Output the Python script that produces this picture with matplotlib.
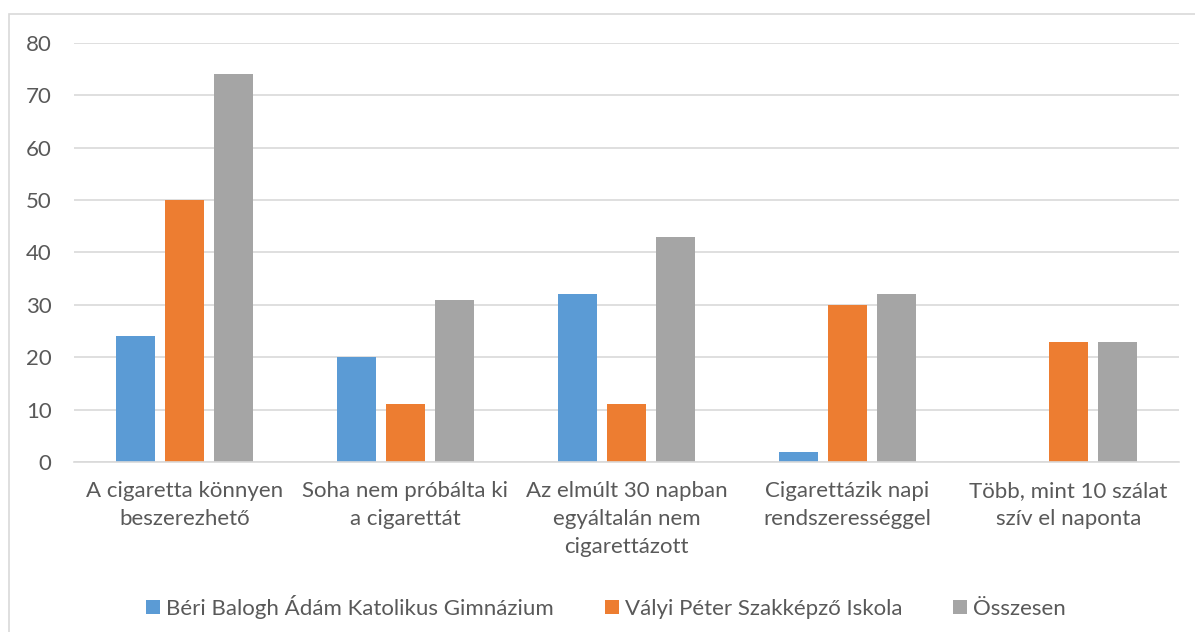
import numpy as np
import matplotlib.pyplot as plt
from matplotlib.patches import Rectangle

plt.rcParams['font.family'] = ['Lato', 'DejaVu Sans']

categories = ['A cigaretta könnyen\nbeszerezhető',
              'Soha nem próbálta ki\na cigarettát',
              'Az elmúlt 30 napban\negyáltalán nem\ncigarettázott',
              'Cigarettázik napi\nrendszerességgel',
              'Több, mint 10 szálat\nszív el naponta']
series_names = ['Béri Balogh Ádám Katolikus Gimnázium',
                'Vályi Péter Szakképző Iskola',
                'Összesen']
beri = [24, 20, 32, 2, 0]
valyi = [50, 11, 11, 30, 23]
osszesen = [74, 31, 43, 32, 23]
colors = ['#5B9BD5', '#ED7D31', '#A5A5A5']

text_color = '#595959'
grid_color = '#D9D9D9'

fig = plt.figure(figsize=(11.95, 6.32), dpi=100)
ax = fig.add_axes([0.0619, 0.269, 0.9247, 0.663])

# outer chart border
fig.patches.append(Rectangle((9 / 1195, -0.01), 1.0, 1 - 14 / 632 + 0.01,
                             transform=fig.transFigure, fill=False,
                             edgecolor=grid_color, linewidth=1.2))

x = np.arange(len(categories))
width = 0.177
step = 0.222
for i, (vals, name) in enumerate(zip([beri, valyi, osszesen], series_names)):
    ax.bar(x + (i - 1) * step, vals, width, color=colors[i], label=name, zorder=3)

ax.set_xlim(-0.5, len(categories) - 0.5)
ax.set_ylim(0, 80)
ax.set_yticks(range(0, 81, 10))
ax.yaxis.grid(True, color=grid_color, linewidth=1.2, zorder=0)
for s in ['top', 'right', 'left']:
    ax.spines[s].set_visible(False)
ax.spines['bottom'].set_color(grid_color)
ax.spines['bottom'].set_linewidth(1.2)
ax.spines['bottom'].set_zorder(4)

ax.set_xticks(x)
ax.set_xticklabels(categories, va='top', linespacing=1.5)
ax.tick_params(axis='both', length=0, colors=text_color, labelsize=16)
ax.tick_params(axis='x', pad=14)
ax.tick_params(axis='y', pad=16)

leg = fig.legend(loc='center', bbox_to_anchor=(0.507, 0.040), ncol=3, frameon=False,
                 fontsize=16, handlelength=0.63, handleheight=0.63,
                 handletextpad=0.27, columnspacing=2.3)
for t in leg.get_texts():
    t.set_color(text_color)

fig.savefig('out.png', dpi=100)
